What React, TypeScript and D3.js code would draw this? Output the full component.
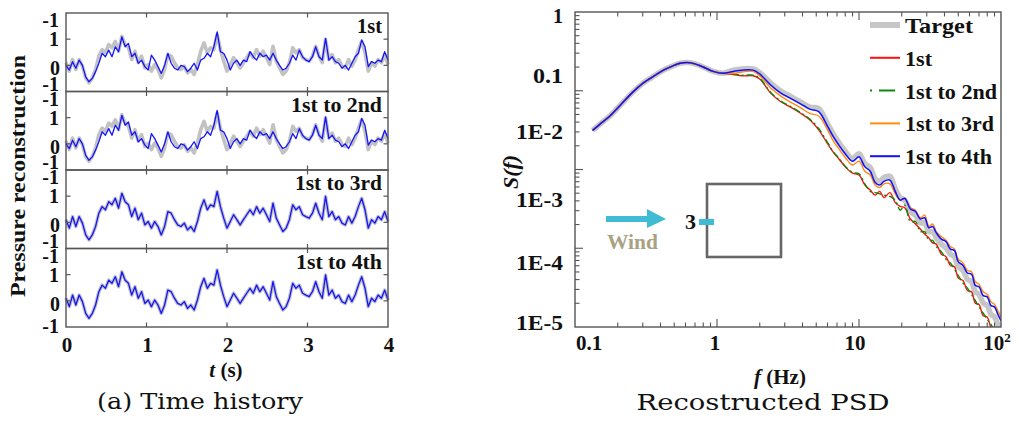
import * as d3 from 'd3'

// (a) time history, 4 s of pressure, same sampling for all panels
const time = d3.range(99).map((i) => (i * 4) / 98)

// target pressure (grey)
const target = [
  0.1, -0.22, 0.22, -0.16, 0.22, -0.03, -0.48, -0.67, -0.48, -0.16,
  0.35, 0.6, 0.48, 0.79, 0.67, 0.92, 0.54, 1.11, 0.79, 0.67,
  0.22, 0.54, 0.1, 0.35, -0.1, 0.03, -0.22, 0.03, -0.16, -0.48,
  -0.16, 0.41, 0.35, 0.1, -0.1, -0.16, -0.03, -0.29, -0.16, -0.35,
  0.03, 0.54, 0.86, 0.48, 0.67, 0.6, 1.18, 0.6, 0.16, -0.22,
  0.03, 0.29, 0.1, -0.1, 0.1, 0.29, 0.48, 0.29, 0.6, 0.35,
  0.54, 0.29, 0.03, 0.73, 0.16, -0.1, -0.35, -0.22, 0.1, 0.67,
  0.48, 0.6, 0.29, 0.22, 0.16, 0.35, 0.73, 0.35, 0.1, 0.99,
  0.22, 0.41, 0.1, 0.22, -0.03, -0.1, 0.22, -0.03, 0.22, 0.6,
  0.92, 0.48, -0.22, 0.1, -0.03, 0.22, 0.1, 0.41, 0.03,
]

// reconstruction with the 1st mode only (blue, top panels)
const recon1 = [
  0.0, -0.18, 0.14, -0.11, 0.2, 0, -0.44, -0.63, -0.5, -0.24,
  0.08, 0.46, 0.33, 0.58, 0.33, 0.71, 0.52, 1.09, 0.71, 0.84,
  0.33, 0.46, 0.08, 0.2, -0.05, -0.18, 0.39, 0.2, -0.05, -0.31,
  0, 0.46, 0.08, -0.11, -0.18, 0, -0.05, -0.24, -0.11, 0.08,
  -0.18, 0.2, 0.27, 0.46, 0.33, 0.71, 1.28, 0.52, 0.46, 0.2, -0.18,
  0.08, 0.2, 0, 0.2, 0.14, 0.52, 0.33, 0.2, 0.46, 0.33,
  0.39, 0.2, 0.46, 0.2, 0, -0.18, -0.11, 0.08, 0.39, 0.2,
  0.58, 0.33, 0.2, 0.14, 0.33, 0.71, 0.33, 0.2, 1.03, 0.2,
  0.33, 0.14, 0.08, -0.11, 0, -0.18, 0.08, 0.33, 0.46, 0.97,
  0.71, -0.05, 0.14, 0.08, 0.2, 0.14, 0.52, 0.2,
]

const panelNames = ['1st', '1st to 2nd', '1st to 3rd', '1st to 4th']
const panelRecon = [recon1, recon1, target, target]
const tTicks = [0, 1, 2, 3, 4]

// PSD, frequencies in Hz and log10 S(f)
const freq = [
  0.133, 0.15, 0.176, 0.21, 0.25, 0.3, 0.35, 0.42, 0.48, 0.55,
  0.62, 0.7, 0.8, 0.94, 1.1, 1.3, 1.5, 1.8, 2.0, 2.4,
  2.8, 3.3, 3.9, 4.5, 5.2, 6.0, 6.6, 7.2, 8.0, 9.0,
  10, 11, 12, 13, 14, 15, 16.5, 18, 19.5, 21,
  23, 25, 27, 29, 31, 33, 35, 38, 41, 44,
  47, 50, 54, 58, 62, 66, 70, 75, 80, 85,
  90, 95, 100,
]
const psdLow = [-1.87, -1.77, -1.64, -1.46, -1.28, -1.12, -1.02, -0.91, -0.85, -0.8, -0.79, -0.81, -0.86, -0.93, -0.96]
const psdTarget = [...psdLow,
  -0.91, -0.89, -0.89, -0.95, -1.12, -1.24, -1.33, -1.42, -1.5, -1.52,
  -1.76, -1.93, -2.06, -2.2, -2.32, -2.24, -2.4, -2.46, -2.64, -2.68,
  -2.62, -2.6, -2.8, -2.94, -2.98, -3.16, -3.22, -3.34, -3.34, -3.48,
  -3.48, -3.58, -3.68, -3.74, -3.84, -3.88, -4.04, -4.1, -4.24, -4.28,
  -4.44, -4.48, -4.62, -4.66, -4.8, -4.84, -4.96, -5.06]
const psd1 = [...psdLow,
  -0.98, -1.0, -1.0, -1.05, -1.28, -1.41, -1.5, -1.6, -1.7, -1.86,
  -2.08, -2.22, -2.32, -2.45, -2.55, -2.58, -2.74, -2.82, -2.9, -2.84,
  -2.94, -2.86, -3.02, -3.08, -3.1, -3.28, -3.36, -3.44, -3.52, -3.58,
  -3.66, -3.68, -3.84, -3.88, -4.02, -4.04, -4.22, -4.26, -4.42, -4.44,
  -4.62, -4.64, -4.82, -4.84, -5.0, -5.03, -5.15, -5.25]
const psd12 = [...psdLow,
  -0.97, -0.99, -0.99, -1.04, -1.27, -1.4, -1.49, -1.59, -1.69, -1.84,
  -2.06, -2.21, -2.31, -2.44, -2.54, -2.56, -2.72, -2.84, -2.86, -2.88,
  -2.9, -2.92, -2.98, -3.14, -3.06, -3.32, -3.32, -3.48, -3.48, -3.62,
  -3.62, -3.72, -3.8, -3.92, -3.98, -4.08, -4.18, -4.3, -4.38, -4.48,
  -4.58, -4.68, -4.78, -4.88, -4.96, -5.06, -5.14, -5.26]
const psd13 = [...psdLow,
  -0.96, -0.94, -0.93, -1.0, -1.2, -1.32, -1.42, -1.51, -1.6, -1.64,
  -1.86, -2.04, -2.16, -2.3, -2.42, -2.36, -2.52, -2.58, -2.74, -2.78,
  -2.72, -2.72, -2.88, -2.98, -2.96, -3.1, -3.14, -3.26, -3.22, -3.4,
  -3.36, -3.48, -3.56, -3.62, -3.72, -3.76, -3.92, -3.98, -4.1, -4.12,
  -4.28, -4.32, -4.44, -4.48, -4.6, -4.64, -4.74, -4.84]
const psd14 = [...psdLow,
  -0.93, -0.91, -0.91, -0.97, -1.15, -1.27, -1.36, -1.45, -1.53, -1.57,
  -1.8, -1.97, -2.1, -2.24, -2.36, -2.29, -2.45, -2.52, -2.7, -2.74,
  -2.68, -2.66, -2.84, -2.98, -2.95, -3.12, -3.16, -3.28, -3.26, -3.42,
  -3.4, -3.5, -3.6, -3.64, -3.76, -3.78, -3.96, -4.02, -4.14, -4.16,
  -4.34, -4.36, -4.5, -4.52, -4.66, -4.68, -4.8, -4.9]

const legendNames = ['Target', '1st', '1st to 2nd', '1st to 3rd', '1st to 4th']
const psdYLabels = ['1', '0.1', '1E-2', '1E-3', '1E-4', '1E-5']
const psdYValues = [1, 0.1, 1e-2, 1e-3, 1e-4, 1e-5]
const psdXValues = [0.1, 1, 10, 100]

const serif = "'Liberation Serif', 'Times New Roman', serif"
const wide = "'DejaVu Serif', serif"
const frame = '#555'

function Txt({ x, y, w, anchor = 'start', size = 21, bold = true, italic = false, fill = '#111', font = serif, children }) {
  let x0 = x
  if (w && anchor === 'end') x0 = x - w
  if (w && anchor === 'middle') x0 = x - w / 2
  return (
    <text x={x0} y={y} textAnchor={w ? 'start' : anchor} fontFamily={font} fontSize={size}
      fontWeight={bold ? 'bold' : 'normal'} fontStyle={italic ? 'italic' : 'normal'} fill={fill}
      textLength={w} lengthAdjust={w ? 'spacingAndGlyphs' : undefined}>
      {children}
    </text>
  )
}

function TimeHistory() {
  const xT = d3.scaleLinear().domain([0, 4]).range([66, 388])
  const top0 = 13
  const ph = 78.5
  const nameW = [25, 91, 87, 86]
  return (
    <g>
      {panelNames.map((name, k) => {
        const top = top0 + k * ph
        const y = d3.scaleLinear().domain([-1, 2]).range([top + ph, top])
        const line = d3.line<number>().x((_, i) => xT(time[i])).y((d) => y(d))
        return (
          <g key={name}>
            <path d={line(target) ?? ''} fill="none" stroke="#c2c2c2" strokeWidth={3.6} strokeLinejoin="round" />
            <path d={line(panelRecon[k]) ?? ''} fill="none" stroke="#1414ff" strokeWidth={1.3} strokeLinejoin="round" />
            <rect x={66} y={top} width={322} height={ph} fill="none" stroke={frame} strokeWidth={1.4} />
            {[1, 2, 3].map((t) => (
              <g key={t}>
                <line x1={xT(t)} x2={xT(t)} y1={top} y2={top + 4.5} stroke={frame} strokeWidth={1.2} />
                <line x1={xT(t)} x2={xT(t)} y1={top + ph} y2={top + ph - 4.5} stroke={frame} strokeWidth={1.2} />
              </g>
            ))}
            {[0, 1].map((v) => (
              <g key={v}>
                <line x1={66} x2={70.5} y1={y(v)} y2={y(v)} stroke={frame} strokeWidth={1.2} />
                <line x1={388} x2={383.5} y1={y(v)} y2={y(v)} stroke={frame} strokeWidth={1.2} />
              </g>
            ))}
            <Txt x={59} y={y(2) + 14} anchor="end" size={20}>-1</Txt>
            <Txt x={59} y={y(1) + 7} anchor="end" size={20}>1</Txt>
            <Txt x={60} y={y(0) + 10} anchor="end" size={20}>0</Txt>
            <Txt x={59} y={k === 3 ? y(-1) + 6 : y(-1) - 1} anchor="end" size={20}>-1</Txt>
            <Txt x={382} y={top + 20} w={nameW[k]} anchor="end">{name}</Txt>
          </g>
        )
      })}
      {tTicks.map((t) => (
        <Txt key={t} x={xT(t) + 1} y={352} anchor="middle">{String(t)}</Txt>
      ))}
      <text x={226} y={377} textAnchor="middle" fontFamily={serif} fontSize={21} fontWeight="bold" fill="#111">
        <tspan fontStyle="italic">t</tspan> (s)
      </text>
      <text transform="translate(25,176) rotate(-90)" textAnchor="middle" fontFamily={serif} fontSize={21}
        fontWeight="bold" fill="#111" textLength={242} lengthAdjust="spacingAndGlyphs">
        Pressure reconstruction
      </text>
      <Txt x={200} y={409} w={206} anchor="middle" size={23} bold={false} font={wide}>(a) Time history</Txt>
    </g>
  )
}

function Psd() {
  const x = d3.scaleLog().domain([0.1, 100]).range([575, 1001])
  const y = d3.scaleLog().domain([1e-5, 1]).range([327, 13])
  const yTick = d3.scaleLog().domain([1e-4, 1]).range([327, 12])
  const line = d3.line<number>().x((_, i) => x(freq[i])).y((d) => y(10 ** d)).curve(d3.curveCatmullRom)
  const xMinor = x.ticks().filter((f) => f > 0.1 && f < 100)
  const yMinor = yTick.ticks().filter((v) => v > 1e-4 && v < 1)
  const isMajor = (v: number) => Math.abs(Math.log10(v) - Math.round(Math.log10(v))) < 1e-6
  const series = [
    { d: psdTarget, stroke: '#c6c6c6', w: 5.5, dash: undefined },
    { d: psd1, stroke: '#ff1010', w: 1.4, dash: undefined },
    { d: psd12, stroke: '#0a8a0a', w: 1.4, dash: '7 3 2 3' },
    { d: psd13, stroke: '#ff8a14', w: 1.4, dash: undefined },
    { d: psd14, stroke: '#1010ff', w: 1.5, dash: undefined },
  ]
  const legendW = [68, 27, 92, 89, 87]
  const xLabelDx = [14, -2, -4, -4]
  const yLabelDy = [10, 7, 0, 6, 6, 3]
  const yLabelW = [10, 30, 47, 47, 47, 47]
  return (
    <g>
      <defs>
        <clipPath id="psdclip">
          <rect x={575} y={12} width={426} height={315} />
        </clipPath>
      </defs>
      <g clipPath="url(#psdclip)">
        {series.map((s, i) => (
          <path key={i} d={line(s.d) ?? ''} fill="none" stroke={s.stroke} strokeWidth={s.w}
            strokeDasharray={s.dash} strokeLinejoin="round" />
        ))}
      </g>
      <rect x={575} y={12} width={426} height={315} fill="none" stroke={frame} strokeWidth={1.4} />
      {xMinor.map((f, i) => {
        const len = isMajor(f) ? 8 : 4.5
        return (
          <g key={i}>
            <line x1={x(f)} x2={x(f)} y1={327} y2={327 - len} stroke={frame} strokeWidth={1.1} />
            <line x1={x(f)} x2={x(f)} y1={12} y2={12 + len} stroke={frame} strokeWidth={1.1} />
          </g>
        )
      })}
      {yMinor.map((v, i) => (
        <line key={i} x1={575} x2={575 + (isMajor(v) ? 8 : 4.5)} y1={yTick(v)} y2={yTick(v)} stroke={frame} strokeWidth={1.1} />
      ))}
      {psdYValues.map((v, i) => (
        <Txt key={i} x={563} y={y(v) + yLabelDy[i]} w={yLabelW[i]} anchor="end">{psdYLabels[i]}</Txt>
      ))}
      {psdXValues.map((f, i) => (
        f === 100 ? (
          <text key={i} x={x(f) + xLabelDx[i]} y={350} textAnchor="middle" fontFamily={serif} fontSize={21} fontWeight="bold" fill="#111">
            10<tspan fontSize={13} dy={-8}>2</tspan>
          </text>
        ) : (
          <Txt key={i} x={x(f) + xLabelDx[i]} y={350} anchor="middle">{d3.format('~g')(f)}</Txt>
        )
      ))}
      <text x={780} y={384} textAnchor="middle" fontFamily={serif} fontSize={21} fontWeight="bold" fill="#111">
        <tspan fontStyle="italic">f</tspan> (Hz)
      </text>
      <text transform="translate(518,172) rotate(-90)" textAnchor="middle" fontFamily={serif} fontSize={22}
        fontWeight="bold" fontStyle="italic" fill="#111">
        S(f)
      </text>
      {legendNames.map((name, i) => {
        const ly = 25 + i * 32.8
        const s = series[i]
        return (
          <g key={name}>
            <line x1={870} x2={900} y1={ly} y2={ly} stroke={s.stroke} strokeWidth={i === 0 ? 6 : 2}
              strokeDasharray={i === 2 ? '2 7 16 6' : undefined} />
            <Txt x={905} y={ly + 8} w={legendW[i]}>{name}</Txt>
          </g>
        )
      })}
      {/* building sketch with tap 3 and wind arrow */}
      <rect x={707} y={184} width={74} height={73} fill="none" stroke="#666" strokeWidth={2.6} />
      <line x1={699} x2={714} y1={222} y2={222} stroke="#3fbcd3" strokeWidth={6} />
      <Txt x={696} y={229} anchor="end" size={22}>3</Txt>
      <path d="M606,216 L647,216 L647,209 L666,219 L647,228 L647,222 L606,222 Z" fill="#3fbcd3" />
      <Txt x={607} y={249} w={51} fill="#a8a282">Wind</Txt>
      <Txt x={763} y={410} w={253} anchor="middle" size={23} bold={false} font={wide}>Recostructed PSD</Txt>
    </g>
  )
}

export default function App() {
  return (
    <svg width={1019} height={421} style={{ position: 'absolute', left: 0, top: 0, background: '#fff' }}>
      <TimeHistory />
      <Psd />
    </svg>
  )
}
